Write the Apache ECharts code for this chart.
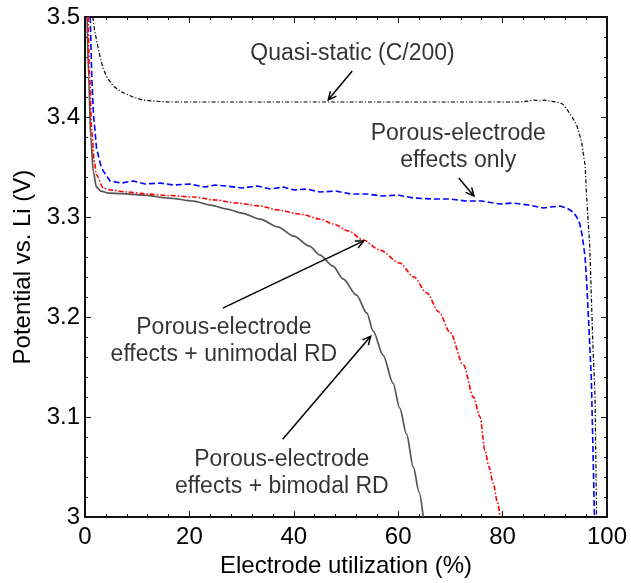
<!DOCTYPE html>
<html>
<head>
<meta charset="utf-8">
<script src="https://cdn.jsdelivr.net/npm/echarts@6/dist/echarts.min.js"></script>
<style>
  html, body { margin: 0; padding: 0; background: #fff; }
  #chart { width: 631px; height: 583px; }
</style>
</head>
<body>
<div id="chart"></div>
<script>
// Discharge curves: electrode utilization (%) vs. potential (V vs. Li)
const quasiX = [1.5, 1.8, 2.2, 2.8, 3.5, 4.3, 5.4, 7, 9.2, 11, 13, 16, 20, 25, 30, 35, 40, 45, 50, 55, 60, 65, 70, 75, 80, 83, 85, 86, 87, 88, 89, 90.4, 91.5, 92.3, 93.3, 94.2, 95.1, 95.8, 96.1, 96.7, 97.3, 97.7, 98.0];
const quasiY = [3.5, 3.488, 3.477, 3.462, 3.448, 3.439, 3.431, 3.425, 3.420, 3.417, 3.416, 3.415, 3.415, 3.415, 3.415, 3.415, 3.415, 3.415, 3.415, 3.415, 3.415, 3.415, 3.415, 3.415, 3.415, 3.415, 3.416, 3.417, 3.416, 3.417, 3.416, 3.415, 3.413, 3.408, 3.400, 3.392, 3.376, 3.352, 3.320, 3.270, 3.172, 3.122, 3.0];

const porousX = [1.0, 1.3, 1.6, 2.2, 3.0, 3.5, 4.8, 7, 9.2, 11.5, 14.4, 17, 20, 23, 25, 27.2, 30, 33, 35.5, 38, 40, 42.5, 45, 48, 51, 54, 57, 60, 63, 66.7, 70, 73, 76, 79.5, 82, 85, 87.8, 89, 91, 92.3, 93.5, 94.2, 94.8, 95.3, 95.8, 96.1, 96.4, 97.0, 97.3, 97.6];
const porousY = [3.5, 3.44, 3.405, 3.369, 3.352, 3.346, 3.336, 3.334, 3.336, 3.333, 3.334, 3.332, 3.333, 3.330, 3.332, 3.331, 3.329, 3.331, 3.328, 3.330, 3.327, 3.328, 3.325, 3.326, 3.323, 3.323, 3.321, 3.322, 3.319, 3.318, 3.318, 3.316, 3.316, 3.313, 3.314, 3.312, 3.309, 3.310, 3.311, 3.309, 3.305, 3.300, 3.293, 3.280, 3.260, 3.235, 3.204, 3.139, 3.07, 3.0];

const unimodalX = [0.6, 0.9, 1.3, 1.8, 2.2, 3.5, 5, 8, 12, 16, 20.8, 25, 29, 33.5, 37, 41.2, 45, 47.6, 50.5, 53.3, 56.5, 60.3, 63, 65.5, 67.8, 69.9, 72.5, 74.4, 75.7, 76.6, 77.4, 78.2, 79.0, 79.5];
const unimodalY = [3.5, 3.44, 3.385, 3.355, 3.342, 3.329, 3.327, 3.325, 3.323, 3.3215, 3.320, 3.317, 3.314, 3.311, 3.307, 3.303, 3.298, 3.293, 3.286, 3.277, 3.267, 3.254, 3.240, 3.224, 3.205, 3.185, 3.152, 3.120, 3.100, 3.067, 3.050, 3.034, 3.015, 3.0];

const bimodalX = [0.4, 0.7, 1.1, 1.6, 2.2, 3.0, 4.5, 7, 11.1, 16, 20.8, 24, 27.2, 30, 33.5, 37, 40, 43, 45, 47.5, 49.5, 52, 54, 55.2, 57.1, 59, 60.3, 61.6, 62.9, 64.0, 64.8];
const bimodalY = [3.5, 3.44, 3.38, 3.345, 3.330, 3.326, 3.324, 3.3235, 3.322, 3.319, 3.316, 3.312, 3.308, 3.304, 3.298, 3.290, 3.281, 3.271, 3.262, 3.251, 3.238, 3.222, 3.204, 3.186, 3.162, 3.134, 3.109, 3.083, 3.050, 3.025, 3.0];

const xTicks = [0, 20, 40, 60, 80, 100];
const yTicks = [3.0, 3.1, 3.2, 3.3, 3.4, 3.5];

// Annotation text: [x, y, text]
const notes = [
  [51.25, 3.4635, 'Quasi-static (C/200)'],
  [71.5, 3.3698, 'Porous-electrode\neffects only'],
  [26.6, 3.1755, 'Porous-electrode\neffects + unimodal RD'],
  [37.7, 3.0444, 'Porous-electrode\neffects + bimodal RD']
];
// Arrows: [tailX, tailY, headX, headY]
const arrows = [
  [51.2, 3.446, 46.6, 3.4172],
  [71.6, 3.339, 74.5, 3.321],
  [26.4, 3.209, 53.4, 3.2761],
  [37.87, 3.0779, 54.73, 3.1808]
];

const FONT = '"Liberation Sans", Arial, Helvetica, sans-serif';
const zip = (xs, ys) => xs.map((x, i) => [x, ys[i]]);

const baseX = {
  type: 'value', min: xTicks[0], max: xTicks[xTicks.length - 1], interval: 20,
  axisLine: { show: true, onZero: false, lineStyle: { color: '#111', width: 2 } },
  axisTick: { show: true, inside: true, length: 6, lineStyle: { color: '#111', width: 1 } },
  minorTick: { show: true, splitNumber: 5, length: 3, lineStyle: { color: '#111', width: 1 } },
  splitLine: { show: false }
};
const baseY = {
  type: 'value', min: yTicks[0], max: yTicks[yTicks.length - 1], interval: 0.1,
  axisLine: { show: true, onZero: false, lineStyle: { color: '#111', width: 2 } },
  axisTick: { show: true, inside: true, length: 6, lineStyle: { color: '#111', width: 1 } },
  minorTick: { show: true, splitNumber: 5, length: 3, lineStyle: { color: '#111', width: 1 } },
  splitLine: { show: false }
};

const chart = echarts.init(document.getElementById('chart'), null, { renderer: 'canvas' });
chart.setOption({
  backgroundColor: '#fff',
  animation: false,
  grid: { left: 85, top: 17, right: 24, bottom: 59, containLabel: false },
  xAxis: [
    Object.assign({}, baseX, {
      position: 'bottom',
      name: 'Electrode utilization (%)', nameLocation: 'middle', nameGap: 31,
      nameTextStyle: { fontFamily: FONT, fontSize: 24, color: '#000' },
      axisLabel: { show: true, margin: 8, fontFamily: FONT, fontSize: 24, color: '#000',
        formatter: v => String(v) }
    }),
    Object.assign({}, baseX, { position: 'top', axisLabel: { show: false } })
  ],
  yAxis: [
    Object.assign({}, baseY, {
      position: 'left',
      name: 'Potential vs. Li (V)', nameLocation: 'middle', nameGap: 44,
      nameTextStyle: { fontFamily: FONT, fontSize: 24, color: '#000' },
      axisLabel: { show: true, margin: 5, fontFamily: FONT, fontSize: 24, color: '#000',
        formatter: v => (Math.abs(v - 3) < 1e-9 ? '3' : v.toFixed(1)) }
    }),
    Object.assign({}, baseY, { position: 'right', axisLabel: { show: false } })
  ],
  series: [
    {
      name: 'bimodal', type: 'line', data: zip(bimodalX, bimodalY), showSymbol: false, symbol: 'none',
      smooth: 0.3, smoothMonotone: 'x',
      lineStyle: { color: '#555', width: 1.7 }, clip: true, z: 2
    },
    {
      name: 'unimodal', type: 'line', data: zip(unimodalX, unimodalY), showSymbol: false, symbol: 'none',
      smooth: 0.3, smoothMonotone: 'x',
      lineStyle: { color: '#ff0000', width: 1.6, type: [5, 2, 1.5, 2] }, clip: true, z: 3
    },
    {
      name: 'porous', type: 'line', data: zip(porousX, porousY), showSymbol: false, symbol: 'none',
      lineStyle: { color: '#0000ff', width: 1.6, type: [6, 3] }, clip: true, z: 4
    },
    {
      name: 'quasi', type: 'line', data: zip(quasiX, quasiY), showSymbol: false, symbol: 'none',
      lineStyle: { color: '#000', width: 1.2, type: [4, 2, 1.2, 2] }, clip: true, z: 5
    },
    {
      name: 'notes', type: 'scatter', symbolSize: 0, z: 6,
      data: notes.map(n => ({ value: [n[0], n[1]], name: n[2] })),
      label: { show: true, position: 'inside', formatter: '{b}', fontFamily: FONT, fontSize: 23,
        lineHeight: 27, color: '#000', align: 'center', verticalAlign: 'middle' },
      emphasis: { disabled: true }, silent: true
    },
    {
      name: 'arrows', type: 'custom', z: 7, silent: true,
      data: arrows,
      renderItem: function (params, api) {
        const t = api.coord([api.value(0), api.value(1)]);
        const h = api.coord([api.value(2), api.value(3)]);
        const ang = Math.atan2(h[1] - t[1], h[0] - t[0]);
        const L = 9, spread = Math.PI / 7;
        const p1 = [h[0] - L * Math.cos(ang - spread), h[1] - L * Math.sin(ang - spread)];
        const p2 = [h[0] - L * Math.cos(ang + spread), h[1] - L * Math.sin(ang + spread)];
        const st = { stroke: '#000', lineWidth: 1.5, fill: null };
        return {
          type: 'group',
          children: [
            { type: 'line', shape: { x1: t[0], y1: t[1], x2: h[0], y2: h[1] }, style: st },
            { type: 'polyline', shape: { points: [p1, h, p2] }, style: st }
          ]
        };
      }
    }
  ]
});
</script>
</body>
</html>
